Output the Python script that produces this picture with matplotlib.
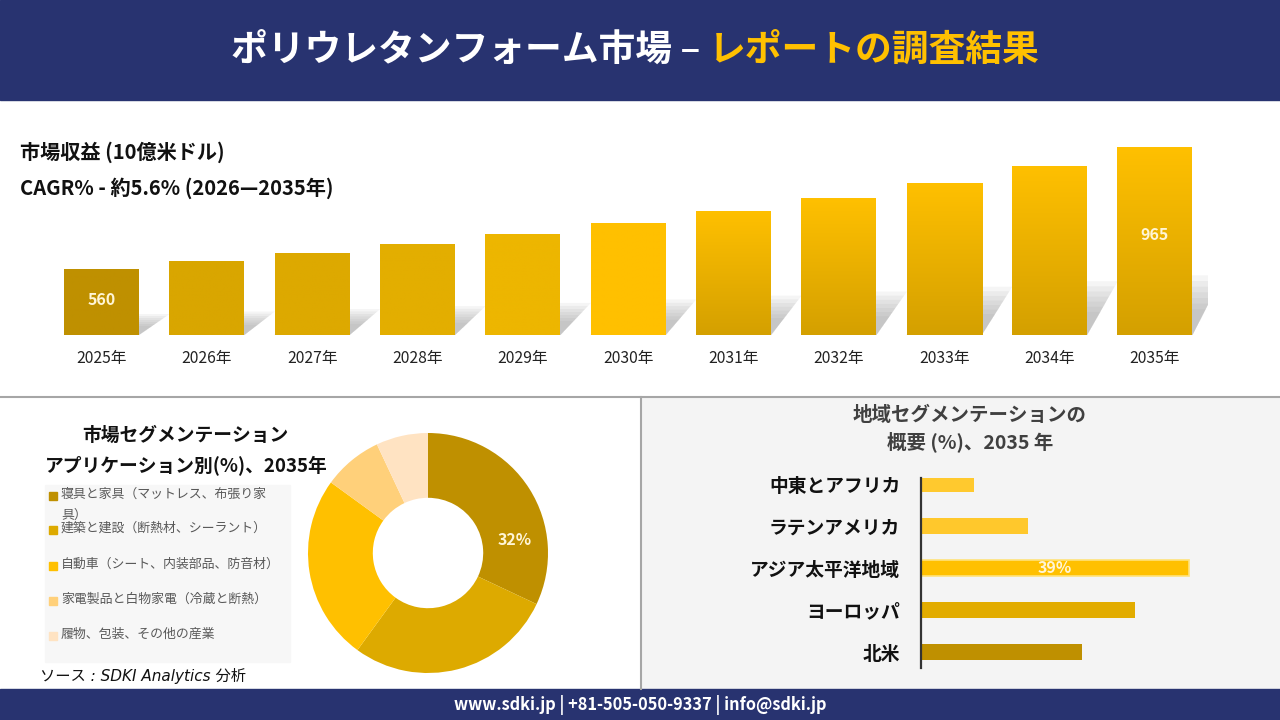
import matplotlib
matplotlib.use("Agg")
import matplotlib.pyplot as plt
import numpy as np
from matplotlib.patches import Rectangle, Polygon
from matplotlib.colors import to_rgb

plt.rcParams['font.family'] = ['Noto Sans CJK JP', 'DejaVu Sans']

# ---------------- data ----------------
years = ["2025年", "2026年", "2027年", "2028年", "2029年", "2030年",
         "2031年", "2032年", "2033年", "2034年", "2035年"]
revenue = [560, 587, 613, 643, 677, 713, 753, 796, 846, 903, 965]
revenue_labels = {0: "560", 10: "965"}

app_labels = ["寝具と家具（マットレス、布張り家\n具）",
              "建築と建設（断熱材、シーラント）",
              "自動車（シート、内装部品、防音材）",
              "家電製品と白物家電（冷蔵と断熱）",
              "履物、包装、その他の産業"]
app_share = [32, 28, 25, 8, 7]

regions = ["北米", "ヨーロッパ", "アジア太平洋地域", "ラテンアメリカ", "中東とアフリカ"]
region_share = [23.4, 31.2, 39.0, 15.6, 7.7]

# ---------------- styles ----------------
W, H = 1280, 720
NAVY = "#283370"
GOLD = "#FFC000"
bar_top = ["#BF9000", "#D9A600", "#DDA900", "#E3AE00", "#EDB600", "#FFC000",
           "#FFC000", "#FFC000", "#FFC000", "#FFC000", "#FFC000"]
bar_bot = ["#BF9000", "#D9A600", "#DDA900", "#E3AE00", "#EDB600", "#FFC000",
           "#D4A000", "#D4A000", "#D4A000", "#D4A000", "#D4A000"]
pie_colors = ["#BF9000", "#DDAA00", "#FFC000", "#FFD07A", "#FFE3C2"]
region_colors = ["#BF9000", "#E2AC00", "#FFC000", "#FFC82C", "#FFC92E"]

fig = plt.figure(figsize=(12.8, 7.2), dpi=100)

def fx(px):
    return px / W

def fy(py):
    return 1 - py / H

bg = fig.add_axes([0, 0, 1, 1])
bg.set_xlim(0, W)
bg.set_ylim(H, 0)
bg.axis('off')
bg.set_zorder(-10)
# panels
bg.add_patch(Rectangle((0, 0), W, H, color="white"))
bg.add_patch(Rectangle((641, 397), 639, 292, color="#F4F4F4"))
bg.plot([0, W], [397, 397], color="#A6A6A6", lw=1.5)
bg.plot([640.5, 640.5], [397, 689], color="#A6A6A6", lw=1.5)
# header / footer
bg.add_patch(Rectangle((0, 0), W, 100, color=NAVY))
bg.add_patch(Rectangle((0, 689), W, 31, color=NAVY))

fig.text(fx(700), fy(50), "ポリウレタンフォーム市場 –", color="white",
         fontsize=26.5, fontweight="bold", ha="right", va="center")
fig.text(fx(709), fy(50), "レポートの調査結果", color=GOLD,
         fontsize=26.5, fontweight="bold", ha="left", va="center")
fig.text(fx(640), fy(705), "www.sdki.jp | +81-505-050-9337 | info@sdki.jp",
         color="white", fontsize=11.8, fontweight="bold", ha="center", va="center")

# ---------------- top bar chart ----------------
fig.text(fx(20), fy(152), "市場収益 (10億米ドル)", fontsize=14.5,
         fontweight="bold", ha="left", va="center", color="#111111")
fig.text(fx(20), fy(188), "CAGR% - 約5.6% (2026—2035年)", fontsize=14.5,
         fontweight="bold", ha="left", va="center", color="#111111")

spacing = 105.35
ax_left = 101.5 - spacing / 2
ax_w = spacing * 11
base_px = 335
ax_h = 200
px_per_unit = 0.301
ymin = 341
ymax = ymin + ax_h / px_per_unit
ax = fig.add_axes([fx(ax_left), fy(base_px + 40), fx(ax_w), (ax_h + 40) / H])
ax.set_xlim(-0.5, 10.5)
ax.set_ylim(ymin - 40 / px_per_unit, ymax)
ax.axis('off')
ax.patch.set_alpha(0)

bw = 75 / spacing
x = np.arange(len(years))
bars = ax.bar(x, revenue, width=bw, bottom=0, color="none", zorder=3)
for i, b in enumerate(bars):
    x0 = b.get_x()
    x1 = x0 + b.get_width()
    top = b.get_height()
    bar_px = (top - ymin) * px_per_unit
    # soft shadow: several layered, skewed projections of the bar
    sh_h_px = 0.25 * bar_px
    for k in range(7):
        s = 0.55 + 0.12 * k
        hpx = sh_h_px * s
        dpx = 24 * s
        d = dpx / spacing
        hh = hpx / px_per_unit
        poly = Polygon([(x0, ymin), (x1, ymin), (x1 + d, ymin + hh),
                        (x0 + d, ymin + hh)], closed=True,
                       facecolor=(0.55, 0.55, 0.55), edgecolor="none",
                       alpha=0.085, zorder=1)
        ax.add_patch(poly)
    # gradient bar
    rect = Rectangle((x0, ymin), b.get_width(), top - ymin, facecolor="none",
                     edgecolor="none")
    ax.add_patch(rect)
    c0 = np.array(to_rgb(bar_bot[i]))
    c1 = np.array(to_rgb(bar_top[i]))
    t = np.linspace(0, 1, 128).reshape(-1, 1, 1)
    img = c0 + (c1 - c0) * t
    im2 = ax.imshow(img, extent=(x0, x1, ymin, top), origin="lower",
                    aspect="auto", zorder=3, interpolation="bilinear")
    im2.set_clip_path(rect)
    ax.text(x[i], ymin - 23 / px_per_unit, years[i], ha="center",
            va="center", fontsize=11.3, color="#222222")

for i, lab in revenue_labels.items():
    if i == 0:
        ypos = ymin + 35 / px_per_unit
    else:
        ypos = ymin + 100 / px_per_unit
    ax.text(x[i], ypos, lab, ha="center", va="center", color="#FFF5D6",
            fontsize=11.5, fontweight="bold", zorder=5)
ax.set_xlim(-0.5, 10.5)
ax.set_ylim(ymin - 40 / px_per_unit, ymax)

# ---------------- donut ----------------
fig.text(fx(185), fy(435), "市場セグメンテーション", fontsize=13.5,
         fontweight="bold", ha="center", va="center", color="#111111")
fig.text(fx(186), fy(466), "アプリケーション別(%)、2035年", fontsize=13.5,
         fontweight="bold", ha="center", va="center", color="#111111")

R = 120
pax = fig.add_axes([fx(428 - R), fy(553 + R), fx(2 * R), 2 * R / H])
pax.pie(app_share, colors=pie_colors, startangle=90, counterclock=False,
        radius=1.0, wedgeprops=dict(width=0.54, edgecolor="none"))
pax.set_xlim(-1, 1)
pax.set_ylim(-1, 1)
pax.set_aspect('equal')
ang = np.deg2rad(8.5)
pax.text(0.73 * np.cos(ang), 0.73 * np.sin(ang), f"{app_share[0]}%",
         ha="center", va="center", color="#FFF5D6", fontsize=11.5,
         fontweight="bold")

# legend
bg.add_patch(Rectangle((45, 485), 245, 177, color="#F7F7F7", zorder=1))
leg_y = [496, 530, 566, 601, 636]
for i, lab in enumerate(app_labels):
    bg.add_patch(Rectangle((49, leg_y[i] - 4), 8, 8, color=pie_colors[i],
                           zorder=2))
    bg.text(61, leg_y[i] - 8, lab, ha="left", va="top", fontsize=9.3,
            color="#595959", linespacing=1.75, zorder=3)

fig.text(fx(40), fy(676), "ソース : SDKI Analytics 分析", fontsize=11,
         style="italic", ha="left", va="center", color="#111111",
         family=['DejaVu Sans', 'Noto Sans CJK JP'])

# ---------------- region bars ----------------
fig.text(fx(970), fy(415), "地域セグメンテーションの", fontsize=14,
         fontweight="bold", ha="center", va="center", color="#404040")
fig.text(fx(970), fy(442), "概要 (%)、2035 年", fontsize=14,
         fontweight="bold", ha="center", va="center", color="#404040")

sp = 42
bottom_px = 668
top_px = 478
lo = -(bottom_px - 652) / sp
hi = 4 + (484 - top_px) / sp
rx = fig.add_axes([fx(921), fy(bottom_px), fx(50 * 6.87), (bottom_px - top_px) / H])
rx.patch.set_alpha(0)
yy = np.arange(len(regions))
edges = ["none", "none", "#FFE27A", "none", "none"]
rbars = rx.barh(yy, region_share, height=16 / sp, color=region_colors,
                edgecolor=edges, linewidth=1.2)
rx.set_xlim(0, 50)
rx.set_ylim(lo, hi)
rx.set_yticks(yy)
rx.set_yticklabels(regions, fontsize=13.5, fontweight="bold", color="#111111")
rx.tick_params(axis='y', length=0, pad=15)
rx.set_xticks([])
for s in ["top", "right", "bottom"]:
    rx.spines[s].set_visible(False)
rx.spines["left"].set_color("#333333")
rx.spines["left"].set_linewidth(1.6)
ia = regions.index("アジア太平洋地域")
rx.text(region_share[ia] / 2, yy[ia], f"{region_share[ia]:.0f}%", ha="center",
        va="center", color="#FFF5D6", fontsize=11.5, fontweight="bold")

fig.savefig("out.png", dpi=100)
